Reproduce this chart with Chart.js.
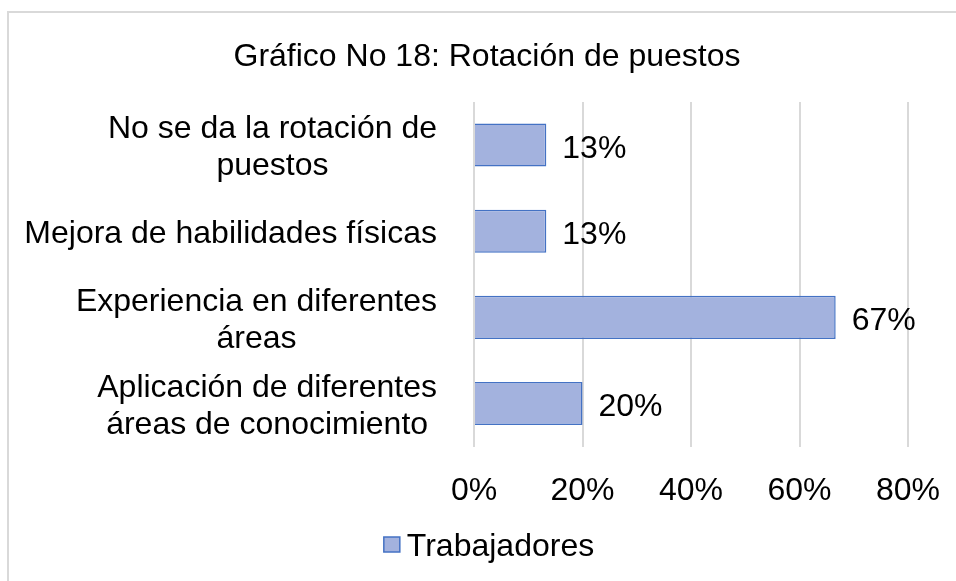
<!DOCTYPE html>
<html>
<head>
<meta charset="utf-8">
<script src="https://cdn.jsdelivr.net/npm/chart.js@4/dist/chart.umd.min.js"></script>
<style>
html,body{margin:0;padding:0;background:#fff;}
#wrap{width:956px;height:581px;position:relative;}
</style>
</head>
<body>
<div id="wrap"><canvas id="c" width="956" height="581"></canvas></div>
<script>
const chartTitle = 'Gráfico No 18: Rotación de puestos';
const categories = [
  ['No se da la rotación de', 'puestos'],
  ['Mejora de habilidades físicas'],
  ['Experiencia en diferentes', 'áreas'],
  ['Aplicación de diferentes', 'áreas de conocimiento']
];
const seriesName = 'Trabajadores';
const values = [13.33, 13.33, 66.67, 20];
const valueLabels = ['13%', '13%', '67%', '20%'];
const xTicks = [0, 20, 40, 60, 80];

const FONT = '"Liberation Sans", Arial, sans-serif';
const fillColor = '#a3b2de';
const edgeColor = '#4472c4';

const decorPlugin = {
  id: 'decor',
  beforeDraw(chart) {
    const ctx = chart.ctx;
    ctx.save();
    ctx.strokeStyle = '#d9d9d9';
    ctx.lineWidth = 2;
    ctx.beginPath();
    ctx.moveTo(8, 581);
    ctx.lineTo(8, 12);
    ctx.lineTo(956, 12);
    ctx.stroke();
    ctx.restore();
  },
  afterDraw(chart) {
    const ctx = chart.ctx;
    const y = chart.scales.y;
    const dy = 3;
    ctx.save();
    ctx.fillStyle = '#000';
    ctx.font = '32px ' + FONT;
    // title
    ctx.textAlign = 'center';
    ctx.textBaseline = 'middle';
    ctx.fillText(chartTitle, 487, 57);
    // category labels
    const rightEdge = 437;
    const lh = 37;
    categories.forEach((lines, i) => {
      const cy = y.getPixelForValue(i) + dy;
      let w = 0;
      lines.forEach(l => { w = Math.max(w, ctx.measureText(l).width); });
      const cx = rightEdge - w / 2;
      lines.forEach((l, k) => {
        const ly = cy + (k - (lines.length - 1) / 2) * lh;
        ctx.textAlign = 'center';
        ctx.fillText(l, cx, ly);
      });
    });
    // value labels
    const meta = chart.getDatasetMeta(0);
    meta.data.forEach((bar, i) => {
      ctx.textAlign = 'left';
      ctx.fillText(valueLabels[i], bar.x + 16, bar.y + 4);
    });
    // legend
    const tw = ctx.measureText(seriesName).width;
    const total = 16 + 7 + tw;
    const lx = 489 - total / 2;
    ctx.fillStyle = fillColor;
    ctx.fillRect(lx, 537, 16, 15);
    ctx.strokeStyle = edgeColor;
    ctx.lineWidth = 1.5;
    ctx.strokeRect(lx, 537, 16, 15);
    ctx.fillStyle = '#000';
    ctx.textAlign = 'left';
    ctx.fillText(seriesName, lx + 23, 547);
    ctx.restore();
  }
};

new Chart(document.getElementById('c'), {
  type: 'bar',
  data: {
    labels: categories,
    datasets: [{
      label: seriesName,
      data: values,
      backgroundColor: fillColor,
      borderColor: edgeColor,
      borderWidth: 1.5,
      categoryPercentage: 1,
      barPercentage: 0.5
    }]
  },
  options: {
    indexAxis: 'y',
    responsive: false,
    animation: false,
    layout: { padding: { left: 0, right: 48, top: 102, bottom: 46 } },
    plugins: {
      legend: { display: false },
      title: { display: false },
      tooltip: { enabled: false }
    },
    scales: {
      x: {
        min: 0,
        max: 80,
        afterBuildTicks(scale) { scale.ticks = xTicks.map(v => ({ value: v })); },
        afterFit(scale) { scale.paddingLeft = 0; scale.paddingRight = 0; },
        ticks: {
          callback: v => v + '%',
          font: { size: 32, family: FONT },
          color: '#000',
          padding: 25,
          maxRotation: 0
        },
        grid: { color: '#d9d9d9', lineWidth: 2, drawTicks: false },
        border: { display: false }
      },
      y: {
        ticks: { display: false },
        grid: { display: false },
        border: { display: false },
        afterFit(scale) { scale.width = 474; }
      }
    }
  },
  plugins: [decorPlugin]
});
</script>
</body>
</html>
